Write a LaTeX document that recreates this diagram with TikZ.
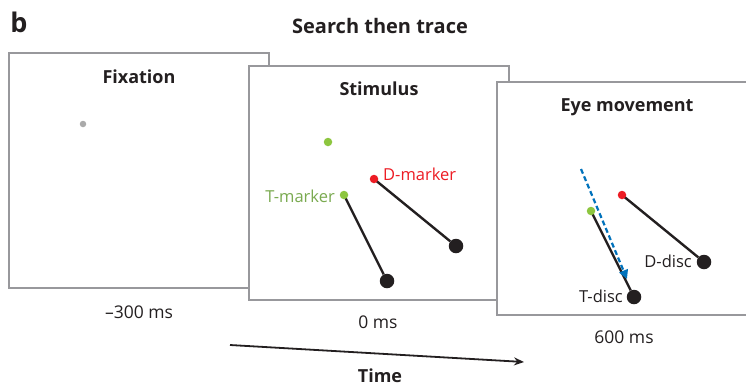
\documentclass[tikz,border=0pt]{standalone}
\usepackage{fontspec}
\setmainfont{Open Sans}
\usetikzlibrary{arrows.meta}
\definecolor{framegray}{RGB}{152,152,156}
\definecolor{fixgray}{RGB}{170,170,170}
\definecolor{tgreen}{RGB}{141,198,63}
\definecolor{tgreentext}{RGB}{122,170,80}
\definecolor{dred}{RGB}{237,28,36}
\definecolor{discblack}{RGB}{35,31,32}
\definecolor{eyeblue}{RGB}{0,114,188}
\tikzset{
  panel/.style={draw=framegray, line width=2pt, fill=white},
  title/.style={font=\bfseries\fontsize{18}{21}\selectfont, text=discblack, anchor=base, inner sep=0pt},
  lbl/.style={font=\fontsize{16.5}{19}\selectfont, text=discblack, anchor=base, inner sep=0pt},
  timelbl/.style={lbl, font=\fontsize{17.5}{20}\selectfont},
  dot/.style={circle, inner sep=0pt, minimum size=#1},
  marker/.style={dot=8.5pt, fill=#1},
  disc/.style={dot=14.5pt, fill=discblack},
  rod/.style={line width=2.4pt, draw=discblack},
}
\begin{document}
\begin{tikzpicture}[x=1pt, y=-1pt]
\useasboundingbox (0,0) rectangle (746,386);
\clip (0,0) rectangle (746,386);

\node[font=\bfseries\fontsize{27}{30}\selectfont, text=discblack, anchor=base, inner sep=0pt] (b) at (19,32) {b};
\node[title, font=\bfseries\fontsize{20}{23}\selectfont] (head) at (380,33) {Search then trace};

% panels, back to front
\draw[panel] (9,53) rectangle (269,288);
\draw[panel] (249,66) rectangle (509,300);
\draw[panel] (497,82) rectangle (757,315);

% fixation
\node[title] (fixt) at (139,83) {Fixation};
\node[dot=6.5pt, fill=fixgray] (fix) at (83,124) {};
\node[timelbl] (t1) at (139,318) {\textendash300 ms};

% stimulus
\node[title] (stimt) at (379,95) {Stimulus};
\node[marker=tgreen] (g0) at (328,142) {};
\node[disc] (td1) at (387,281) {};
\node[disc] (dd1) at (456,246) {};
\draw[rod] (374,179) -- (dd1);
\draw[rod] (344,195) -- (td1);
\node[marker=dred] (dm1) at (374,179) {};
\node[marker=tgreen] (tm1) at (344,195) {};
\node[lbl, text=dred, anchor=base west] (dml) at (383,180) {D-marker};
\node[lbl, text=tgreentext, anchor=base east] (tml) at (335,202) {T-marker};
\node[timelbl] (t2) at (378,328) {0 ms};

% eye movement
\node[title] (eyet) at (627,111) {Eye movement};
\node[disc] (td2) at (634,297) {};
\node[disc] (dd2) at (704,262) {};
\draw[rod] (622,195) -- (dd2);
\draw[rod] (591,211) -- (td2);
\node[marker=dred] (dm2) at (622,195) {};
\node[marker=tgreen] (tm2) at (591,211) {};
\coordinate (eyes) at (581,169);
\coordinate (eyee) at (627,279);
\draw[eyeblue, line width=2.2pt, dash pattern=on 5pt off 3pt,
  -{Triangle[width=9pt,length=9pt]}] (eyes) -- (eyee);
\node[lbl, anchor=base east] (ddl) at (692,267) {D-disc};
\node[lbl, anchor=base east] (tdl) at (623,302) {T-disc};
\node[timelbl] (t3) at (624,343) {600 ms};

% time axis
\coordinate (ta) at (230,345);
\coordinate (tb) at (524,362);
\draw[line width=1.8pt, discblack, -{Stealth[length=10pt,width=8pt]}] (ta) -- (tb);
\node[title] (time) at (380,382) {Time};
\end{tikzpicture}
\end{document}
